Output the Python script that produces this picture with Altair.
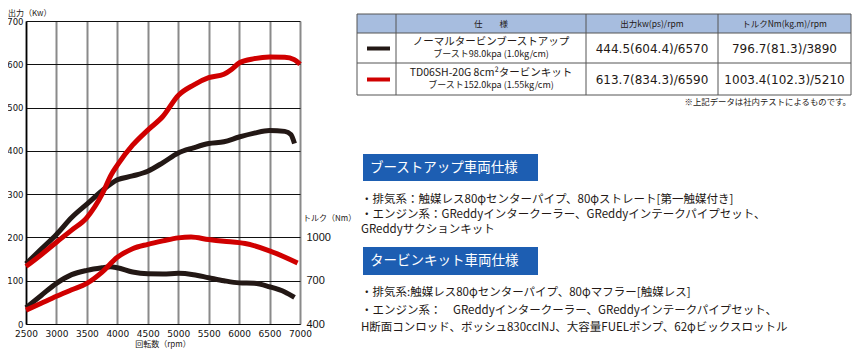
import altair as alt
import pandas as pd

# ---------------- data ----------------
series_names = ["ノーマルタービンブーストアップ", "TD06SH-20G 8cm²タービンキット"]
series_colors = ["#231815", "#d00000"]

rpm_ticks = [2500, 3000, 3500, 4000, 4500, 5000, 5500, 6000, 6500, 7000]
kw_ticks = [0, 100, 200, 300, 400, 500, 600, 700]
nm_ticks = [400, 700, 1000]

# power (kW) - boost up
bu_pw_rpm = [2500, 2750, 3000, 3250, 3500, 3750, 4000, 4250, 4500, 4750, 5000, 5250, 5500, 5750, 6000, 6250, 6500, 6750, 6850, 6910]
bu_pw_kw = [139, 173, 207, 246, 277, 308, 333, 342, 353, 373, 395, 407, 417, 421, 432, 441, 447, 445, 438, 417]
# power (kW) - turbine kit
tk_pw_rpm = [2500, 2750, 3000, 3250, 3500, 3750, 3900, 4000, 4250, 4500, 4750, 5000, 5250, 5500, 5750, 5875, 6000, 6250, 6500, 6750, 6900, 7000]
tk_pw_kw = [133, 160, 189, 217, 246, 300, 345, 367, 413, 448, 480, 528, 552, 569, 577, 588, 603, 613, 617, 616, 611, 600]
# torque (Nm) - boost up
bu_tq_rpm = [2500, 2750, 3000, 3250, 3500, 3750, 3890, 4000, 4250, 4500, 4750, 5000, 5250, 5500, 5750, 6000, 6250, 6500, 6750, 6910]
bu_tq_nm = [513, 598, 682, 742, 772, 790, 797, 790, 760, 748, 747, 751, 742, 721, 700, 685, 682, 658, 622, 584]
# torque (Nm) - turbine kit
tk_tq_rpm = [2500, 2750, 3000, 3250, 3500, 3750, 4000, 4250, 4500, 4750, 5000, 5210, 5500, 5750, 6000, 6100, 6500, 6960]
tk_tq_nm = [496, 544, 592, 637, 682, 760, 862, 922, 952, 976, 997, 1003, 985, 973, 964, 958, 907, 823]

header_texts = ["仕　　様", "出力kw(ps)/rpm", "トルクNm(kg.m)/rpm"]
spec_main = series_names
spec_sub = ["ブースト98.0kpa (1.0kg/cm)", "ブースト152.0kpa (1.55kg/cm)"]
power_max = ["444.5(604.4)/6570", "613.7(834.3)/6590"]
torque_max = ["796.7(81.3)/3890", "1003.4(102.3)/5210"]
note_text = "※上記データは社内テストによるものです。"

box_titles = ["ブーストアップ車両仕様", "タービンキット車両仕様"]
spec_lines_1 = [
    "・排気系：触媒レス80φセンターパイプ、80φストレート[第一触媒付き]",
    "・エンジン系：GReddyインタークーラー、GReddyインテークパイプセット、",
    "GReddyサクションキット",
]
spec_lines_2 = [
    "・排気系:触媒レス80φセンターパイプ、80φマフラー[触媒レス]",
    "・エンジン系：　GReddyインタークーラー、GReddyインテークパイプセット、",
    "H断面コンロッド、ボッシュ830ccINJ、大容量FUELポンプ、62φビックスロットル",
]

# ---------------- layout (pixels) ----------------
PAD_L, PAD_T, PAD_B = 18, 13, 25
W, H = 274, 303
TOTAL_W = 844
PAD_R = TOTAL_W - PAD_L - W
OX, OY = 8 + PAD_L, 8 + PAD_T  # page position of the plot origin


def px(v):
    return v - OX


def py(v):
    return v - OY


JP = "Noto Sans CJK JP"
INK = "#231815"

power_df = pd.concat([
    pd.DataFrame({"series": series_names[0], "rpm": bu_pw_rpm, "kw": bu_pw_kw}),
    pd.DataFrame({"series": series_names[1], "rpm": tk_pw_rpm, "kw": tk_pw_kw}),
])
torque_df = pd.concat([
    pd.DataFrame({"series": series_names[0], "rpm": bu_tq_rpm, "nm": bu_tq_nm}),
    pd.DataFrame({"series": series_names[1], "rpm": tk_tq_rpm, "nm": tk_tq_nm}),
])

color = alt.Color("series:N", scale=alt.Scale(domain=series_names, range=series_colors), legend=None)
xscale = alt.Scale(domain=[2500, 7000], nice=False, zero=False)
xaxis = alt.Axis(
    values=rpm_ticks, title=None, grid=True, gridColor="#8a8a8a", gridWidth=2,
    ticks=False, domain=True, domainColor="#000", domainWidth=1, format="d",
    labelFont="DejaVu Sans", labelFontSize=9, labelColor="#111", labelPadding=5,
    labelOverlap=False, labelFlush=False, labelAlign="center")

power = alt.Chart(power_df).mark_line(strokeWidth=5, interpolate="monotone", strokeCap="butt").encode(
    x=alt.X("rpm:Q", scale=xscale, axis=xaxis),
    y=alt.Y("kw:Q", scale=alt.Scale(domain=[0, 700], nice=False), axis=alt.Axis(
        values=kw_ticks, title=None, grid=True, gridColor="#111", gridWidth=1,
        ticks=False, domain=True, domainColor="#000", domainWidth=1.5,
        labelFont="DejaVu Sans", labelFontSize=8.5, labelColor="#111", labelPadding=3)),
    color=color,
    detail="series:N",
)

torque = alt.Chart(torque_df).mark_line(strokeWidth=5, interpolate="monotone", strokeCap="butt").encode(
    x=alt.X("rpm:Q", scale=xscale, axis=xaxis),
    y=alt.Y("nm:Q", scale=alt.Scale(domain=[400, 2500], nice=False, zero=False), axis=alt.Axis(
        orient="right", values=nm_ticks, title=None, grid=False, ticks=False, domain=False,
        format="d", labelFont="Liberation Sans", labelFontSize=11, labelColor="#111", labelPadding=6)),
    color=color,
    detail="series:N",
)

plot = alt.layer(power, torque).resolve_scale(y="independent")


def text_layer(df, size, align="left", col=INK, font=JP, weight="normal"):
    return alt.Chart(df).mark_text(
        align=align, baseline="middle", fontSize=size, font=font, color=col, fontWeight=weight
    ).encode(
        x=alt.X("x:Q", scale=None, axis=None),
        y=alt.Y("y:Q", scale=None, axis=None),
        text="t:N",
    )


# axis titles
ytitle = text_layer(pd.DataFrame({"x": [px(8)], "y": [py(13.5)], "t": ["出力（Kw）"]}), 8)
xtitle = text_layer(pd.DataFrame({"x": [W / 2], "y": [py(345)], "t": ["回転数（rpm）"]}), 8, align="center")
tqtitle = text_layer(pd.DataFrame({"x": [px(303)], "y": [H * (1 - 200 / 700) - 18], "t": ["トルク（Nm）"]}), 8)

# table
col_x = [357, 396, 586, 718, 851]
row_y = [14, 33, 63, 95]
hdr_rect = alt.Chart(pd.DataFrame({"x": [px(col_x[0])], "x2": [px(col_x[-1])], "y": [py(row_y[0])], "y2": [py(row_y[1])]})).mark_rect(
    color="#a7bddf").encode(
    x=alt.X("x:Q", scale=None, axis=None), x2="x2:Q",
    y=alt.Y("y:Q", scale=None, axis=None), y2="y2:Q")

segs = []
for yy in row_y:
    segs.append((col_x[0], col_x[-1], yy, yy))
for xx in col_x:
    segs.append((xx, xx, row_y[0], row_y[-1]))
seg_df = pd.DataFrame({
    "x": [px(s[0]) for s in segs], "x2": [px(s[1]) for s in segs],
    "y": [py(s[2]) for s in segs], "y2": [py(s[3]) for s in segs],
})
table_lines = alt.Chart(seg_df).mark_rule(color="#555", strokeWidth=1).encode(
    x=alt.X("x:Q", scale=None, axis=None), x2="x2:Q",
    y=alt.Y("y:Q", scale=None, axis=None), y2="y2:Q")

sw_df = pd.DataFrame({
    "series": series_names,
    "x": [px(367)] * 2, "x2": [px(390)] * 2,
    "y": [py(48.5), py(79.5)],
})
swatches = alt.Chart(sw_df).mark_rule(strokeWidth=4).encode(
    x=alt.X("x:Q", scale=None, axis=None), x2="x2:Q",
    y=alt.Y("y:Q", scale=None, axis=None), color=color)

c2 = (col_x[1] + col_x[2]) / 2
c3 = (col_x[2] + col_x[3]) / 2
c4 = (col_x[3] + col_x[4]) / 2
hdr = text_layer(pd.DataFrame({"x": [px(c2), px(c3), px(c4)], "y": [py(23.5)] * 3, "t": header_texts}), 8.5, align="center")
main_t = text_layer(pd.DataFrame({"x": [px(c2)] * 2, "y": [py(41.5), py(72.5)], "t": spec_main}), 10.5, align="center")
sub_t = text_layer(pd.DataFrame({"x": [px(c2)] * 2, "y": [py(54), py(85)], "t": spec_sub}), 9, align="center")
vals = text_layer(pd.DataFrame({
    "x": [px(c3), px(c3), px(c4), px(c4)],
    "y": [py(49), py(80), py(49), py(80)],
    "t": [power_max[0], power_max[1], torque_max[0], torque_max[1]],
}), 12, align="center", font="DejaVu Sans")
note = text_layer(pd.DataFrame({"x": [px(851)], "y": [py(102)], "t": [note_text]}), 8.4, align="right")

# blue title boxes
box_df = pd.DataFrame({"x": [px(363)] * 2, "x2": [px(538)] * 2, "y": [py(154), py(247)], "y2": [py(181), py(275)]})
boxes = alt.Chart(box_df).mark_rect(color="#1d5eb2").encode(
    x=alt.X("x:Q", scale=None, axis=None), x2="x2:Q",
    y=alt.Y("y:Q", scale=None, axis=None), y2="y2:Q")
box_t = text_layer(pd.DataFrame({"x": [px(370)] * 2, "y": [py(167.5), py(261)], "t": box_titles}), 13.5, col="#ffffff")

lines_df = pd.DataFrame({
    "x": [px(361)] * 6,
    "y": [py(200), py(215), py(230), py(293), py(310.5), py(328)],
    "t": spec_lines_1 + spec_lines_2,
})
spec_t = text_layer(lines_df, 11.5)

chart = alt.layer(
    plot, ytitle, xtitle, tqtitle,
    hdr_rect, table_lines, swatches, hdr, main_t, sub_t, vals, note,
    boxes, box_t, spec_t,
).properties(
    width=W, height=H,
    autosize=alt.AutoSizeParams(type="none"),
    padding={"left": PAD_L, "top": PAD_T, "right": PAD_R, "bottom": PAD_B},
    background="#ffffff",
).configure_view(stroke=None)

chart.save("out.html", embed_options={"renderer": "svg", "actions": False})
